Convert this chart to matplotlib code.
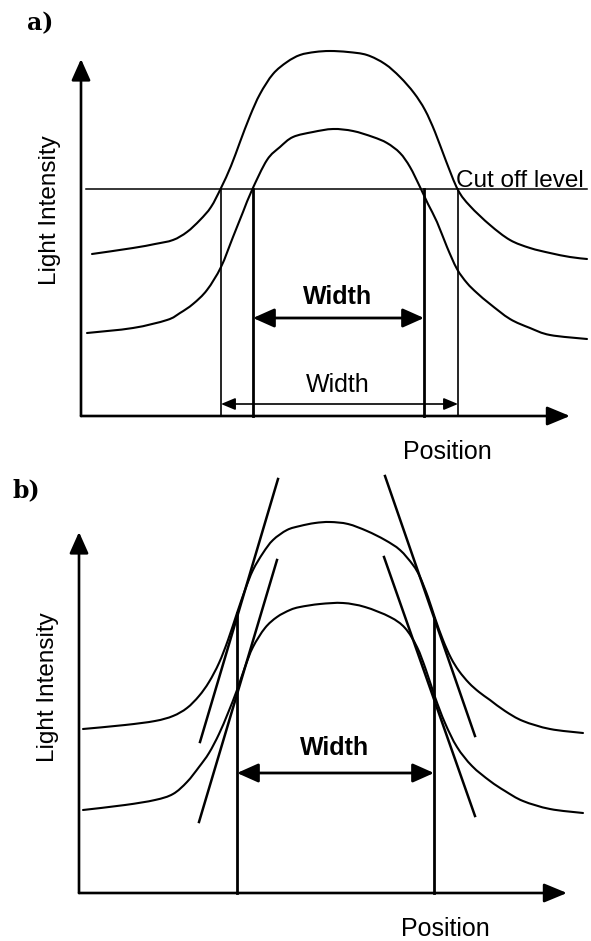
import matplotlib
matplotlib.use("Agg")
import matplotlib.pyplot as plt
from matplotlib.path import Path
from matplotlib.patches import PathPatch

plt.rcParams['font.family'] = ['Liberation Sans', 'DejaVu Sans']

# ---- panel a: two intensity profiles cut at a fixed level ----
a_upper_x = [1.1, 5.2, 7.4, 9.2, 10.6, 11.9, 13.0, 14.0, 15.0, 15.9, 16.9, 17.9, 19.2, 20.6, 21.9, 23.4,
             24.9, 26.7, 28.6, 30.4, 31.9, 33.3, 34.4, 35.4, 36.5, 37.7, 38.9, 40.9, 42.9, 44.9, 46.9,
             48.9, 50.6]
a_upper_y = [16.2, 16.8, 17.2, 17.6, 18.4, 19.6, 20.9, 22.8, 25.0, 27.4, 30.0, 32.2, 34.2, 35.4, 36.1, 36.4,
             36.5, 36.4, 36.1, 35.2, 33.9, 32.3, 30.6, 28.4, 25.5, 22.6, 21.0, 19.1, 17.6, 16.8, 16.3,
             15.9, 15.7]
a_lower_x = [0.6, 5.2, 8.6, 9.9, 11.2, 12.6, 14.0, 15.2, 16.2, 17.1, 18.6, 19.9, 21.2, 23.2, 25.2, 27.2,
             29.2, 30.6, 31.9, 32.9, 33.9, 34.7, 35.6, 36.6, 37.6, 38.6, 39.6, 40.9, 42.9, 44.9, 46.9, 50.6]
a_lower_y = [8.3, 8.8, 9.6, 10.3, 11.2, 12.6, 14.9, 17.9, 20.4, 22.6, 25.6, 26.9, 27.9, 28.4, 28.7, 28.5,
             27.9, 27.3, 26.3, 24.9, 22.9, 21.2, 19.4, 16.9, 14.7, 13.3, 12.3, 11.2, 9.7, 8.8, 8.1, 7.7]
cutoff = 22.7
cut_outer = [14.0, 37.7]   # where the upper profile meets the cut off level
cut_inner = [17.2, 34.3]   # where the lower profile meets it

# ---- panel b: same profiles, width taken at the inflection points ----
b_upper_x = [0.4, 4.6, 7.6, 9.4, 10.8, 12.0, 13.0, 14.0, 14.9, 15.8, 16.6, 17.4, 18.4, 19.4, 20.8, 22.1,
             23.6, 25.1, 26.9, 28.8, 30.6, 32.1, 33.4, 34.1, 34.9, 35.6, 36.4, 37.2, 38.0, 39.0, 40.0,
             41.1, 42.6, 44.4, 47.1, 50.4]
b_upper_y = [16.4, 16.8, 17.2, 17.7, 18.5, 19.7, 21.1, 23.0, 25.3, 28.0, 30.3, 32.3, 34.0, 35.3, 36.3, 36.7,
             37.0, 37.1, 36.9, 36.2, 35.3, 34.3, 32.8, 31.6, 29.6, 27.5, 25.3, 23.5, 22.2, 21.0, 20.1,
             19.3, 18.2, 17.2, 16.4, 16.0]
b_lower_x = [0.4, 4.6, 7.6, 9.4, 10.8, 12.0, 13.0, 14.0, 14.9, 15.8, 16.6, 17.4, 18.6, 19.8, 21.1, 22.1,
             24.1, 26.4, 28.6, 31.1, 32.6, 33.8, 34.7, 35.6, 36.6, 37.8, 39.3, 41.1, 42.6, 44.4, 47.1, 50.4]
b_lower_y = [8.3, 8.8, 9.3, 9.9, 11.1, 12.6, 14.0, 15.9, 18.0, 20.3, 22.6, 24.6, 26.5, 27.6, 28.3, 28.6,
             28.9, 29.0, 28.6, 27.6, 26.5, 24.6, 22.3, 19.6, 17.0, 14.6, 12.7, 11.2, 10.2, 9.2, 8.4, 8.0]
# tangents through the inflection points: (x0, y0, x1, y1)
tangents = [(12.1, 15.1, 19.9, 41.4), (12.0, 7.1, 19.8, 33.3),
            (30.6, 41.7, 39.6, 15.7), (30.5, 33.6, 39.6, 7.7)]
inflect_x = [15.8, 35.5]
inflect_top = [28.0, 27.5]


def smooth(ax, xs, ys, lw=1.5):
    # Catmull-Rom style cubic path through the profile points
    pts = list(zip(xs, ys))
    n = len(pts)
    verts, codes = [pts[0]], [Path.MOVETO]
    for i in range(n - 1):
        p0, p1 = pts[max(i - 1, 0)], pts[i]
        p2, p3 = pts[i + 1], pts[min(i + 2, n - 1)]
        c1 = (p1[0] + (p2[0] - p0[0]) / 6, p1[1] + (p2[1] - p0[1]) / 6)
        c2 = (p2[0] - (p3[0] - p1[0]) / 6, p2[1] - (p3[1] - p1[1]) / 6)
        verts += [c1, c2, p2]
        codes += [Path.CURVE4] * 3
    ax.add_patch(PathPatch(Path(verts, codes), fill=False, lw=lw,
                           edgecolor='black', capstyle='round'))


def arrow(ax, x0, y0, x1, y1, lw, hl, hw, both=False):
    style = ('<|-|>' if both else '-|>') + ',head_length=%s,head_width=%s' % (hl, hw)
    ax.annotate('', xy=(x1, y1), xytext=(x0, y0),
                arrowprops=dict(arrowstyle=style, lw=lw, color='black',
                                shrinkA=0, shrinkB=0, mutation_scale=1))


def frame(ax, ytip, xtip, label, label_xy):
    arrow(ax, 0, 0, 0, ytip, 1.9, 13, 5.8)
    arrow(ax, 0, 0, xtip, 0, 1.9, 14, 5.8)
    ax.text(-3.1, 20.6, 'Light Intensity', rotation=90, fontsize=17.5,
            ha='center', va='center')
    ax.text(36.6, -3.6, 'Position', fontsize=18, ha='center', va='center')
    ax.text(label_xy[0], label_xy[1], label, family='DejaVu Serif',
            fontweight='bold', fontsize=17, ha='center', va='center')


fig = plt.figure(figsize=(5.91, 9.41), dpi=100)
ax_a = fig.add_axes([0, 1 - 470 / 941, 1, 470 / 941])
ax_b = fig.add_axes([0, 0, 1, 471 / 941])
ax_a.set_xlim(-8.1, 51.0)
ax_a.set_ylim(-5.4, 41.6)
ax_b.set_xlim(-7.9, 51.2)
ax_b.set_ylim(-4.8, 42.3)
for ax in (ax_a, ax_b):
    ax.axis('off')

# panel a
frame(ax_a, 35.7, 48.9, 'a)', (-4.1, 39.3))
smooth(ax_a, a_upper_x, a_upper_y)
smooth(ax_a, a_lower_x, a_lower_y)
ax_a.plot([0.5, 50.6], [cutoff, cutoff], color='black', lw=1.1)
for x in cut_outer:
    ax_a.plot([x, x], [0, cutoff], color='black', lw=1.2)
for x in cut_inner:
    ax_a.plot([x, x], [0, cutoff], color='black', lw=2.0)
ax_a.text(37.5, 22.9, 'Cut off level', fontsize=17.5, ha='left', va='baseline')
arrow(ax_a, cut_inner[0], 9.8, cut_inner[1], 9.8, 2.0, 13, 5.8, both=True)
ax_a.text(25.7, 11.9, 'Width', fontsize=18, fontweight='bold', ha='center', va='center')
arrow(ax_a, cut_outer[0], 1.2, cut_outer[1], 1.2, 1.2, 8.6, 3.6, both=True)
ax_a.text(25.7, 3.1, 'Width', fontsize=18, ha='center', va='center')

# panel b
frame(ax_b, 36.1, 48.8, 'b)', (-5.3, 40.3))
smooth(ax_b, b_upper_x, b_upper_y)
smooth(ax_b, b_lower_x, b_lower_y)
for x0, y0, x1, y1 in tangents:
    ax_b.plot([x0, x1], [y0, y1], color='black', lw=1.8)
for x, top in zip(inflect_x, inflect_top):
    ax_b.plot([x, x], [0, top], color='black', lw=2.0)
arrow(ax_b, inflect_x[0], 12.0, inflect_x[1], 12.0, 2.0, 13, 5.8, both=True)
ax_b.text(25.6, 14.5, 'Width', fontsize=18, fontweight='bold', ha='center', va='center')

fig.savefig('out.png', dpi=100)
